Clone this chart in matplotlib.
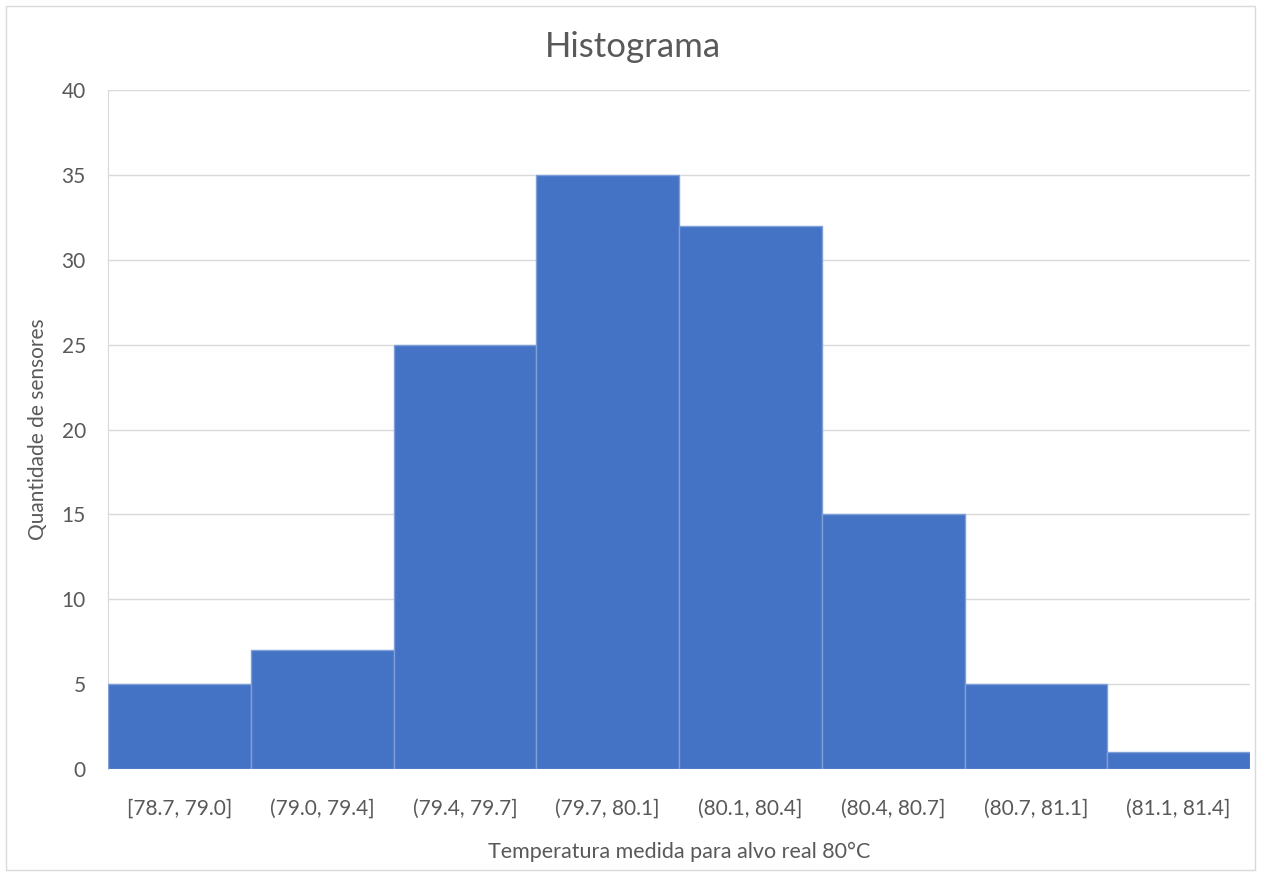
import matplotlib.pyplot as plt
from matplotlib.patches import Rectangle

# dados do histograma
faixas = ['[78.7, 79.0]', '(79.0, 79.4]', '(79.4, 79.7]', '(79.7, 80.1]',
          '(80.1, 80.4]', '(80.4, 80.7]', '(80.7, 81.1]', '(81.1, 81.4]']
contagens = [5, 7, 25, 35, 32, 15, 5, 1]
y_ticks = [0, 5, 10, 15, 20, 25, 30, 35, 40]

plt.rcParams['font.family'] = ['Lato', 'DejaVu Sans']

fig = plt.figure(figsize=(12.66, 8.74), dpi=100)
ax = fig.add_axes([0.0853, 0.1201, 0.9021, 0.7769])

x = list(range(len(faixas)))
ax.bar(x, contagens, width=1.0, color='#4472C4', edgecolor='#7F9FD8',
       linewidth=1, zorder=3)

ax.set_xlim(-0.5, len(faixas) - 0.5)
ax.set_ylim(0, 40)
ax.set_yticks(y_ticks)
ax.set_xticks(x)
ax.set_xticklabels(faixas)
ax.grid(axis='y', color='#D9D9D9', linewidth=1, zorder=0)
ax.tick_params(axis='both', length=0, labelsize=15, colors='#595959')
ax.tick_params(axis='x', pad=21)
ax.tick_params(axis='y', pad=16)

for lado in ['top', 'right', 'bottom']:
    ax.spines[lado].set_visible(False)
ax.spines['left'].set_color('#D9D9D9')

fig.suptitle('Histograma', fontsize=25, color='#595959', x=0.5, y=0.965)
ax.set_xlabel('Temperatura medida para alvo real 80°C', fontsize=15.5,
              color='#595959', labelpad=17)
ax.set_ylabel('Quantidade de sensores', fontsize=15, color='#595959',
              labelpad=10)

# moldura do gráfico
fig.patches.append(Rectangle((0.005, 0.005), 0.986, 0.988, transform=fig.transFigure,
                             fill=False, edgecolor='#D9D9D9', linewidth=1))

fig.savefig('out.png', dpi=100)
